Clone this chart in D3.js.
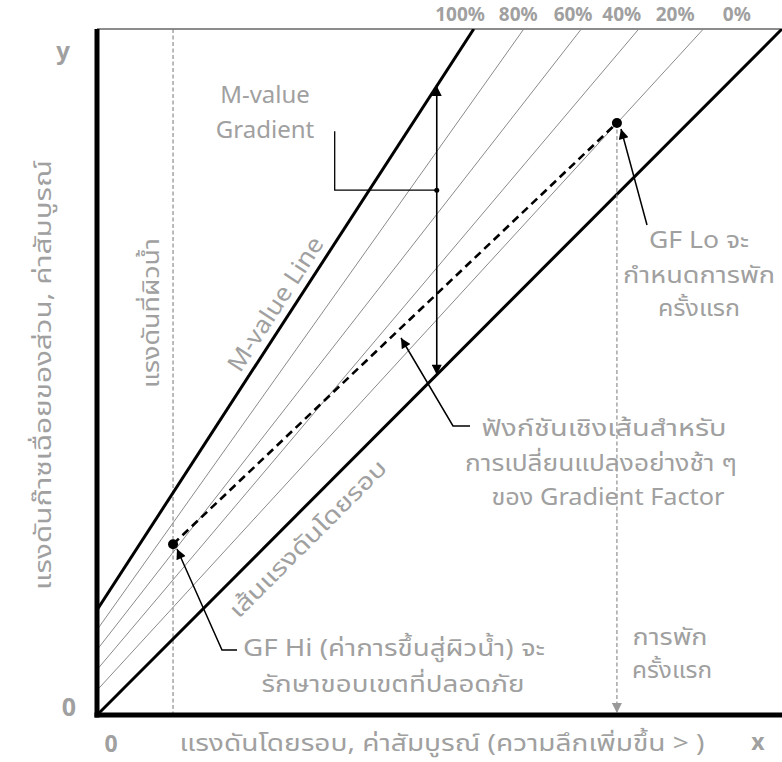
<!DOCTYPE html>
<html><head><meta charset="utf-8">
<script src="https://cdn.jsdelivr.net/npm/d3@7"></script>
<style>
body{margin:0;background:#fff;}
svg text{font-family:"Noto Sans","Noto Sans Thai","Tahoma","DejaVu Sans",sans-serif;fill:#a0a0a0;}
</style></head>
<body><svg id="c" width="782" height="762"></svg>
<script>
// ---- data ----
const gfLabels = ["100%","80%","60%","40%","20%","0%"];
const gfIntercepts = [1.53, 1.24, 0.95, 0.66, 0.36, 0];
const gfSlopes = [1.54, 1.406, 1.28, 1.181, 1.089, 1.0];
const gfLabelX = [5.30, 6.15, 6.95, 7.66, 8.44, 9.34];
const surfaceX = [1.11];
const gfHiPoint = [1.11, 2.49];
const gfLoPoint = [7.59, 8.63];
const gradientX = [4.96];

const svg = d3.select("#c");
const x = d3.scaleLinear().domain([0,10]).range([97,782]);
const y = d3.scaleLinear().domain([0,10]).range([715,29]);

const defs = svg.append("defs");
defs.append("clipPath").attr("id","plot").append("rect")
  .attr("x",x(0)).attr("y",y(10)).attr("width",x(10)-x(0)).attr("height",y(0)-y(10));
function marker(id,color,w,h){
  defs.append("marker").attr("id",id).attr("viewBox","0 0 10 10").attr("refX",10).attr("refY",5)
    .attr("markerWidth",w).attr("markerHeight",h).attr("markerUnits","userSpaceOnUse")
    .attr("orient","auto-start-reverse")
    .append("path").attr("d","M0,0L10,5L0,10Z").attr("fill",color);
}
marker("ab","#000",14,10);
marker("ag","#999",12,10);

const g = svg.append("g");
// top border
g.append("line").attr("x1",x(0)).attr("x2",x(10)).attr("y1",y(10)).attr("y2",y(10))
  .attr("stroke","#666").attr("stroke-width",1.5);

// surface pressure dashed vertical
g.append("line").attr("x1",x(surfaceX[0])).attr("x2",x(surfaceX[0])).attr("y1",y(10)).attr("y2",y(0))
  .attr("stroke","#777").attr("stroke-width",1).attr("stroke-dasharray","4,2.5");

// gradient factor lines
const lineGen = d3.line().x(d=>x(d[0])).y(d=>y(d[1]));
const lg = g.append("g").attr("clip-path","url(#plot)");
gfLabels.forEach((lab,i)=>{
  const b = gfIntercepts[i], m = gfSlopes[i];
  const xe = Math.min(10,(10-b)/m);
  const heavy = (i===0 || i===gfLabels.length-1);
  lg.append("path").attr("d",lineGen([[0,b],[xe,b+m*xe]]))
    .attr("fill","none").attr("stroke",heavy?"#000":"#8a8a8a").attr("stroke-width",heavy?3:1);
  svg.append("text").attr("x",x(gfLabelX[i])).attr("y",21).attr("text-anchor","middle")
    .attr("font-size",19).attr("font-weight","bold").text(lab);
});

// GF Lo vertical dashed gray arrow
g.append("line").attr("x1",x(gfLoPoint[0])).attr("x2",x(gfLoPoint[0])).attr("y1",y(gfLoPoint[1])).attr("y2",y(0)-2)
  .attr("stroke","#999").attr("stroke-width",1.3).attr("stroke-dasharray","4,2.5").attr("marker-end","url(#ag)");

// dashed GF function line
g.append("path").attr("d",lineGen([gfHiPoint,gfLoPoint])).attr("fill","none")
  .attr("stroke","#000").attr("stroke-width",2.6).attr("stroke-dasharray","8,5");
[gfHiPoint,gfLoPoint].forEach(p=>{
  g.append("circle").attr("cx",x(p[0])).attr("cy",y(p[1])).attr("r",5).attr("fill","#000");
});

// M-value gradient double arrow
const gx = gradientX[0];
const yTop = gfIntercepts[0]+gfSlopes[0]*gx, yBot = gfIntercepts[5]+gfSlopes[5]*gx;
g.append("line").attr("x1",x(gx)).attr("x2",x(gx)).attr("y1",y(yTop)).attr("y2",y(yBot))
  .attr("stroke","#000").attr("stroke-width",1.6)
  .attr("marker-start","url(#ab)").attr("marker-end","url(#ab)");
// leader from M-value Gradient text
g.append("path").attr("d",`M${x(3.47)},${y(8.51)}V${y(7.65)}H${x(gx)}`)
  .attr("fill","none").attr("stroke","#000").attr("stroke-width",1.3);
g.append("circle").attr("cx",x(gx)).attr("cy",y(7.65)).attr("r",2.5).attr("fill","#000");

// leader arrows
g.append("path").attr("d",`M${470},${426}H${453}L${401},${338}`).attr("fill","none")
  .attr("stroke","#000").attr("stroke-width",1.5).attr("marker-end","url(#ab)");
g.append("path").attr("d",`M${237},${650}H${222}L${177},${549}`).attr("fill","none")
  .attr("stroke","#000").attr("stroke-width",1.5).attr("marker-end","url(#ab)");
g.append("path").attr("d",`M${647},${225}L${621},${129}`).attr("fill","none")
  .attr("stroke","#000").attr("stroke-width",1.5).attr("marker-end","url(#ab)");

// axes
g.append("line").attr("x1",x(0)).attr("x2",x(0)).attr("y1",y(10)).attr("y2",y(0)+2.5)
  .attr("stroke","#000").attr("stroke-width",5);
g.append("line").attr("x1",x(0)-2.5).attr("x2",x(10)).attr("y1",y(0)).attr("y2",y(0))
  .attr("stroke","#000").attr("stroke-width",5);

// texts
function txt(t,xx,yy,size,opts={}){
  const e = svg.append("text").attr("x",xx).attr("y",yy).attr("font-size",size)
    .attr("text-anchor",opts.anchor||"middle").attr("dominant-baseline","middle").text(t);
  if(opts.bold) e.attr("font-weight","bold");
  if(opts.len) e.attr("textLength",opts.len).attr("lengthAdjust","spacingAndGlyphs");
  if(opts.rot!==undefined) e.attr("transform",`rotate(${opts.rot},${xx},${yy})`);
  return e;
}
txt("y",63,52,24,{bold:true});
txt("0",69,709,25,{bold:true});
txt("0",111,746,23,{bold:true});
txt("x",758,744,23,{bold:true});
txt("แรงดันโดยรอบ, ค่าสัมบูรณ์ (ความลึกเพิ่มขึ้น > )",442,745,23,{len:525});
txt("แรงดันก๊าซเฉื่อยของส่วน, ค่าสัมบูรณ์",45,375,23,{rot:-90,len:430});
txt("แรงดันที่ผิวน้ำ",153,313,23,{rot:-90,len:150});
txt("M-value Line",277,305,24,{rot:-57,len:155});
txt("เส้นแรงดันโดยรอบ",309,540,23,{rot:-45,len:212});
txt("M-value",265,97,24);
txt("Gradient",265,132,24);
txt("GF Lo จะ",699,242,23,{len:100});
txt("กำหนดการพัก",699,277,23,{len:152});
txt("ครั้งแรก",699,310,23,{len:82});
txt("ฟังก์ชันเชิงเส้นสำหรับ",604,430,23,{len:245});
txt("การเปลี่ยนแปลงอย่างช้า ๆ",601,465,23,{len:272});
txt("ของ Gradient Factor",608,499,23,{len:233});
txt("GF Hi (ค่าการขึ้นสู่ผิวน้ำ) จะ",394,650,23,{len:302});
txt("รักษาขอบเขตที่ปลอดภัย",393,686,23,{len:263});
txt("การพัก",670,639,23,{len:75});
txt("ครั้งแรก",672,672,23,{len:80});
</script></body></html>
